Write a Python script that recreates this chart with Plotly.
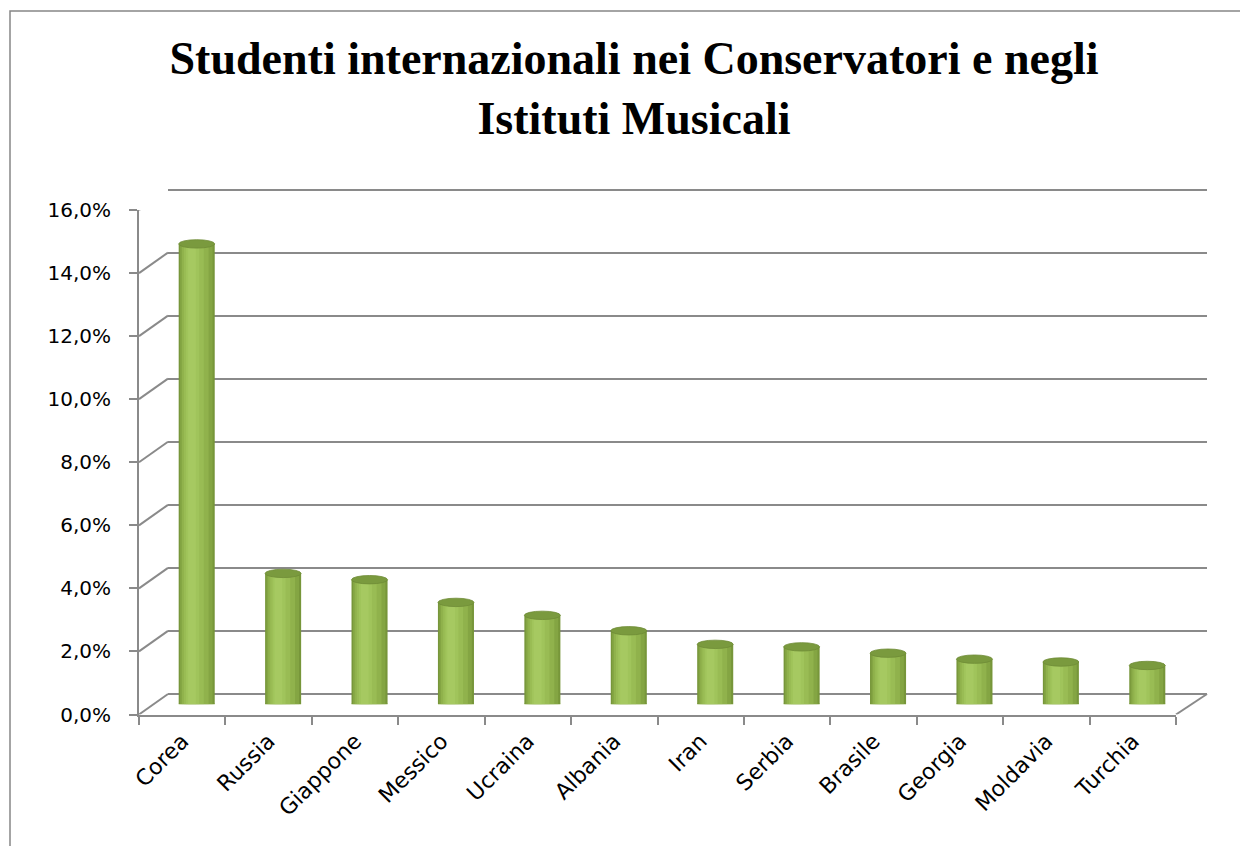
import plotly.graph_objects as go

# ---------------- data ----------------
categories = ["Corea", "Russia", "Giappone", "Messico", "Ucraina", "Albania",
              "Iran", "Serbia", "Brasile", "Georgia", "Moldavia", "Turchia"]
values = [14.6, 4.15, 3.95, 3.23, 2.82, 2.33, 1.90, 1.82, 1.62, 1.43, 1.34, 1.23]
tick_values = [0, 2, 4, 6, 8, 10, 12, 14, 16]
tick_labels = ["0,0%", "2,0%", "4,0%", "6,0%", "8,0%", "10,0%", "12,0%", "14,0%", "16,0%"]
title_text = "Studenti internazionali nei Conservatori e negli<br>Istituti Musicali"

# ---------------- geometry helpers (screen pixels -> paper) ----------------
W, H = 1248, 846
PAGE_OFF = 8   # default page body margin
def px(x):
    return (x - PAGE_OFF) / W
def py(y):
    return 1 - (y - PAGE_OFF) / H

GRID = "#8a8a8a"
Y_FONT = dict(family="DejaVu Sans", size=20, color="#000000")
X_FONT = dict(family="DejaVu Sans", size=22, color="#000000")

FRONT_X = (139, 1176)
FRONT_Y = (714.5, 210)
DX, DY = 29, 20.5          # perspective offset front -> back wall
BAR_W = 0.417
EPS = 0.15                 # range padding so the edge gridlines are drawn
PX_PER_UNIT = (FRONT_Y[0] - FRONT_Y[1]) / 16

fig = go.Figure()

# cylinder bodies: stacked shading layers (dark edges, light highlight)
layers = [
    (-BAR_W / 2, BAR_W, "#77963a"),
    (-0.192, 0.376, "#84a543"),
    (-0.172, 0.310, "#90b24c"),
    (-0.148, 0.230, "#99bc54"),
    (-0.122, 0.150, "#a0c45b"),
    (-0.100, 0.090, "#a6c961"),
]
for off, wid, col in layers:
    fig.add_trace(go.Bar(
        x=categories, y=values, xaxis="x3", yaxis="y3",
        width=wid, offset=off, marker=dict(color=col, line=dict(width=0)),
        showlegend=False, hoverinfo="skip"))

# invisible traces to instantiate other subplots
fig.add_trace(go.Scatter(x=categories, y=[None] * len(categories), xaxis="x", yaxis="y",
                         mode="markers", showlegend=False, hoverinfo="skip"))
fig.add_trace(go.Scatter(x=[0], y=[None], xaxis="x2", yaxis="y2",
                         mode="markers", showlegend=False, hoverinfo="skip"))

shapes = []
# cylinder tops and bottoms (ellipses) derived from the data
for i, v in enumerate(values):
    shapes.append(dict(type="circle", xref="x3", yref="y3", layer="above",
                       x0=i - BAR_W / 2, x1=i + BAR_W / 2,
                       ysizemode="pixel", yanchor=v, y0=-4.2, y1=4.2,
                       fillcolor="#7a9a3e", line=dict(color="#6f8c36", width=0.8)))
    shapes.append(dict(type="circle", xref="x3", yref="y3", layer="below",
                       x0=i - BAR_W / 2, x1=i + BAR_W / 2,
                       ysizemode="pixel", yanchor=0, y0=-4.5, y1=4.5,
                       fillcolor="#8fb04b", line=dict(width=0)))

# diagonal connectors from front axis ticks to the back wall
for v in tick_values:
    shapes.append(dict(type="line", xref="paper", yref="y",
                       x0=px(FRONT_X[0]), x1=px(FRONT_X[0] + DX),
                       ysizemode="pixel", yanchor=v, y0=0, y1=DY,
                       line=dict(color=GRID, width=2)))
# right floor edge
shapes.append(dict(type="line", xref="paper", yref="y",
                   x0=px(FRONT_X[1]), x1=px(FRONT_X[1] + 31),
                   ysizemode="pixel", yanchor=0, y0=0, y1=DY,
                   line=dict(color=GRID, width=2)))
# outer chart border
shapes.append(dict(type="rect", xref="paper", yref="paper",
                   x0=px(10), x1=1.05, y0=-0.05, y1=py(11),
                   line=dict(color="#868686", width=1.5), fillcolor="rgba(0,0,0,0)"))

fig.update_layout(
    width=W, height=H,
    margin=dict(l=0, r=0, t=0, b=0, autoexpand=False),
    paper_bgcolor="white", plot_bgcolor="rgba(0,0,0,0)",
    barmode="overlay",
    showlegend=False,
    title=dict(text=title_text, x=px(634), xanchor="center", y=py(74), yanchor="top",
               automargin=False,
               font=dict(family="Liberation Serif", size=46, color="#000000", weight="bold")),
    # front axes (labels, axis lines, ticks)
    xaxis=dict(domain=[px(FRONT_X[0]), px(FRONT_X[1])], type="category",
               categoryorder="array", categoryarray=categories,
               range=[-0.5, len(categories) - 0.5], automargin=False,
               showline=True, linecolor=GRID, linewidth=2,
               ticks="outside", tickson="boundaries", ticklen=8, tickwidth=2, tickcolor=GRID,
               tickangle=-45, tickfont=X_FONT, ticklabelstandoff=3,
               showgrid=False, zeroline=False, anchor="y", fixedrange=True),
    yaxis=dict(domain=[py(FRONT_Y[0]), py(FRONT_Y[1])], range=[0, 16],
               tickvals=tick_values, ticktext=tick_labels, automargin=False,
               showline=True, linecolor=GRID, linewidth=2,
               ticks="outside", ticklen=8, tickwidth=2, tickcolor=GRID,
               tickfont=Y_FONT, ticklabelstandoff=14,
               showgrid=False, zeroline=False, anchor="x", fixedrange=True),
    # back wall gridlines
    xaxis2=dict(domain=[px(FRONT_X[0] + DX), px(FRONT_X[1] + 31)], range=[0, 1],
                visible=False, anchor="y2", automargin=False),
    yaxis2=dict(domain=[py(FRONT_Y[0] - DY + EPS * PX_PER_UNIT),
                        py(FRONT_Y[1] - DY - EPS * PX_PER_UNIT)],
                range=[-EPS, 16 + EPS],
                tickvals=tick_values, showticklabels=False, ticks="", automargin=False,
                showgrid=True, gridcolor=GRID, gridwidth=2,
                zeroline=False, showline=False, anchor="x2", fixedrange=True),
    # cylinders at mid depth
    xaxis3=dict(domain=[px(FRONT_X[0] + DX / 2), px(FRONT_X[1] + DX / 2)], type="category",
                categoryorder="array", categoryarray=categories,
                range=[-0.5, len(categories) - 0.5], automargin=False,
                visible=False, anchor="y3"),
    yaxis3=dict(domain=[py(FRONT_Y[0] - DY / 2), py(FRONT_Y[1] - DY / 2)], range=[0, 16],
                visible=False, anchor="x3", automargin=False),
    shapes=shapes,
)

fig.write_html("out.html")
